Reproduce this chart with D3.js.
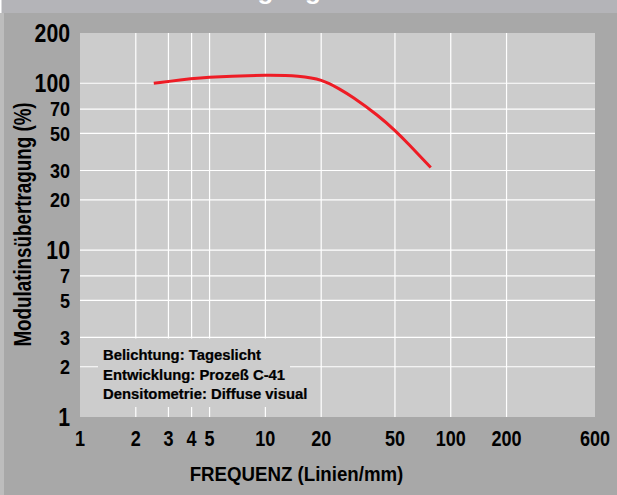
<!DOCTYPE html>
<html><head><meta charset="utf-8">
<script src="https://cdn.jsdelivr.net/npm/d3@7"></script>
<style>body{margin:0;background:#a8a8a8}svg{display:block}text{font-family:"Liberation Sans",Arial,sans-serif;font-weight:bold}</style>
</head><body><svg id="c" width="617" height="495"></svg>
<script>
const freq = [2.5, 3, 5, 10, 15, 20, 25, 30, 40, 50, 60, 78];
const mtf  = [100, 102.5, 108.5, 111.5, 110, 104, 92.5, 81.5, 64.5, 52, 42.5, 31.3];
const xTicks = [1, 2, 3, 4, 5, 10, 20, 50, 100, 200, 600];
const xGrid = [2, 3, 4, 5, 10, 20, 50, 100, 200];
const yTicks = [1, 2, 3, 5, 7, 10, 20, 30, 50, 70, 100, 200];
const yMajor = [1, 10, 100, 200];
const yGrid = [2, 3, 5, 7, 10, 20, 30, 50, 70, 100];
const notes = ["Belichtung: Tageslicht", "Entwicklung: Prozeß C-41", "Densitometrie: Diffuse visual"];
const title = "Modulationsübertragung";
const xTitle = "FREQUENZ (Linien/mm)";
const yTitle = "Modulatinsübertragung (%)";

const svg = d3.select("#c");
const L = 80, R = 595, T = 33, B = 417;
const x = d3.scaleLog().domain([1, 600]).range([L, R]);
const y = d3.scaleLog().domain([1, 200]).range([B, T]);

svg.append("rect").attr("width", 617).attr("height", 495).attr("fill", "#a8a8a8");
svg.append("rect").attr("width", 617).attr("height", 13).attr("fill", "#b4b4b8");
svg.append("rect").attr("x", 0).attr("y", 13).attr("width", 4).attr("height", 482).attr("fill", "#bdbdbd");
svg.append("rect").attr("x", 0).attr("y", 0).attr("width", 1.5).attr("height", 13).attr("fill", "#ffffff");

// title, cut off by the top edge as in the reference
svg.append("text").attr("x", 321).attr("y", -1).attr("text-anchor", "end")
  .attr("font-size", 26).attr("fill", "#fff").text(title);

svg.append("rect").attr("x", L).attr("y", T).attr("width", R - L).attr("height", B - T).attr("fill", "#cccccc");

const g = svg.append("g");
g.selectAll(".vg").data(xGrid).join("line")
  .attr("x1", d => x(d)).attr("x2", d => x(d)).attr("y1", T).attr("y2", B)
  .attr("stroke", "#fff").attr("stroke-width", 1.2);
g.selectAll(".hg").data(yGrid).join("line")
  .attr("y1", d => y(d)).attr("y2", d => y(d)).attr("x1", L).attr("x2", R)
  .attr("stroke", "#fff").attr("stroke-width", 1.2);

// note box
svg.append("rect").attr("x", 98).attr("y", 338.5).attr("width", 192).attr("height", 68.5).attr("fill", "#cccccc");
svg.selectAll(".note").data(notes).join("text")
  .attr("transform", (d, i) => `translate(103,${360 + i * 19.5}) scale(0.97,1)`)
  .attr("font-size", 15.3).attr("fill", "#000").attr("stroke", "#000").attr("stroke-width", 0.25)
  .text(d => d);

// curve
const line = d3.line().x(d => x(d[0])).y(d => y(d[1])).curve(d3.curveNatural);
svg.append("path").datum(freq.map((f, i) => [f, mtf[i]]))
  .attr("d", line).attr("fill", "none").attr("stroke", "#ee1c25")
  .attr("stroke-width", 3).attr("stroke-linecap", "butt");

// y tick labels
svg.selectAll(".yl").data(yTicks).join("text")
  .attr("transform", d => {
    const maj = yMajor.includes(d);
    return `translate(70,${y(d) + (maj ? 9 : 7.3)}) scale(${maj ? 0.85 : 0.9},1)`;
  })
  .attr("text-anchor", "end").attr("font-size", d => yMajor.includes(d) ? 25 : 20)
  .attr("fill", "#000").text(d => d);

// x tick labels
svg.selectAll(".xl").data(xTicks).join("text")
  .attr("transform", d => `translate(${x(d)},446) scale(0.82,1)`)
  .attr("text-anchor", "middle").attr("font-size", 22).attr("fill", "#000").text(d => d);

// axis titles
svg.append("text").attr("transform", "translate(296.5,481) scale(0.89,1)")
  .attr("text-anchor", "middle").attr("font-size", 21).attr("fill", "#000").text(xTitle);
svg.append("text").attr("transform", "translate(31,224.5) rotate(-90) scale(0.8,1)")
  .attr("text-anchor", "middle").attr("font-size", 23.5).attr("fill", "#000").text(yTitle);
</script></body></html>
